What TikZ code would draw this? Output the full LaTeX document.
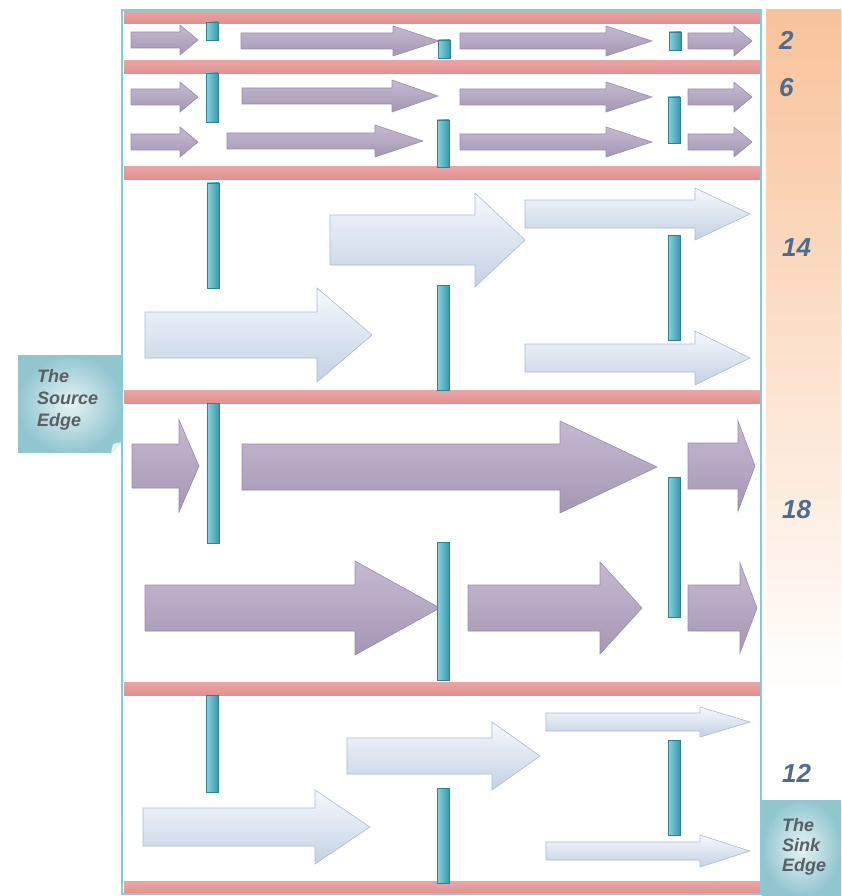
\documentclass[tikz,border=0pt]{standalone}
\usepackage{fontspec}
\setsansfont{Liberation Sans}

\definecolor{framecyan}{HTML}{86CCD6}
\definecolor{pinklight}{HTML}{F8D2D2}
\definecolor{pinkdark}{HTML}{E38E8E}
\definecolor{valvelight}{HTML}{86D3DE}
\definecolor{valvedark}{HTML}{3A98AC}
\definecolor{valveedge}{HTML}{347F8E}
\definecolor{plumtop}{HTML}{C5B9D1}
\definecolor{plumbot}{HTML}{A597B5}
\definecolor{plumedge}{HTML}{9A8CAA}
\definecolor{paletop}{HTML}{F6F9FD}
\definecolor{palebot}{HTML}{C3D1E5}
\definecolor{paleedge}{HTML}{AABBD2}
\definecolor{peach}{HTML}{F8C39A}
\definecolor{peachmid}{HTML}{FBDCC4}
\definecolor{notein}{HTML}{E6F3F5}
\definecolor{noteout}{HTML}{92C6CF}
\definecolor{numblue}{HTML}{4E6C8E}
\definecolor{notetext}{HTML}{5A5F63}

\tikzset{
  layerbar/.style={top color=pinkdark!80, middle color=pinklight, bottom color=pinkdark},
  valve/.style={left color=valvelight, right color=valvedark, draw=valveedge, line width=0.5pt},
  plumflow/.style={top color=plumtop, bottom color=plumbot, draw=plumedge, line width=0.6pt},
  paleflow/.style={top color=paletop, bottom color=palebot, draw=paleedge, line width=0.6pt},
  flowcount/.style={anchor=west, text=numblue, inner sep=0pt,
    font=\sffamily\bfseries\itshape\fontsize{26}{30}\selectfont},
  edgenote/.style={anchor=west, align=left, text=notetext, inner sep=0pt,
    font=\sffamily\bfseries\itshape\fontsize{18}{21}\selectfont}
}

% style, x tail, x tip, y centre, shaft half, head half, head length
\newcommand{\flowarrow}[7]{%
  \draw[#1] (#2,{#4-#5}) -- ({#3-#7},{#4-#5}) -- ({#3-#7},{#4-#6}) -- (#3,#4)
    -- ({#3-#7},{#4+#6}) -- ({#3-#7},{#4+#5}) -- (#2,{#4+#5}) -- cycle;}
\newcommand{\valvebar}[3]{\draw[valve] (#1,#2) rectangle ({#1+12},#3);}
\newcommand{\bandline}[1]{\path[layerbar] (124,{#1-6.5}) rectangle (760,{#1+6.5});}

\begin{document}
\begin{tikzpicture}[x=1pt,y=-1pt]
  \useasboundingbox (0,0) rectangle (841,896);

  % right column and the two edge notes
  \shade[top color=peach, middle color=peachmid, bottom color=white] (766,10) rectangle (841,700);
  \fill[white] (766,700) rectangle (841,800);
  \shade[inner color=notein, outer color=noteout] (762,800) rectangle (841,896);
  \shade[inner color=notein, outer color=noteout]
    (18,355) -- (122,355) -- (122,442) -- (111,453) -- (18,453) -- cycle;
  \fill[notein] (111,453) -- (113,444) -- (122,442) -- cycle;

  % layer separators
  \foreach \y in {17,67,173,397,689,888} {\bandline{\y}}

  % band 2
  \flowarrow{plumflow}{131}{198}{40}{8}{15}{18}
  \flowarrow{plumflow}{241}{439}{41}{8}{15}{46}
  \flowarrow{plumflow}{460}{652}{41}{8}{15}{46}
  \flowarrow{plumflow}{688}{752}{41}{8}{15}{18}
  \valvebar{206}{22}{40}
  \valvebar{438}{40}{58}
  \valvebar{669}{32}{50}

  % band 6
  \foreach \yc in {97,142} {
    \flowarrow{plumflow}{131}{198}{\yc}{8}{15}{18}
    \flowarrow{plumflow}{460}{652}{\yc}{8}{15}{46}
    \flowarrow{plumflow}{688}{752}{\yc}{8}{15}{18}
  }
  \flowarrow{plumflow}{242}{438}{96}{8}{16}{46}
  \flowarrow{plumflow}{227}{423}{141}{8}{16}{48}
  \valvebar{206}{73}{122}
  \valvebar{437}{120}{167}
  \valvebar{668}{97}{143}

  % band 14
  \flowarrow{paleflow}{330}{525}{240}{25}{47}{50}
  \flowarrow{paleflow}{525}{750}{214}{14}{26}{55}
  \flowarrow{paleflow}{145}{372}{335}{23}{47}{55}
  \flowarrow{paleflow}{525}{750}{358}{14}{27}{55}
  \valvebar{207}{183}{288}
  \valvebar{437}{285}{390}
  \valvebar{668}{235}{340}

  % band 18
  \flowarrow{plumflow}{132}{199}{466}{22}{46}{20}
  \flowarrow{plumflow}{242}{657}{467}{23}{46}{97}
  \flowarrow{plumflow}{688}{755}{466}{23}{45}{17}
  \flowarrow{plumflow}{145}{440}{608}{23}{47}{85}
  \flowarrow{plumflow}{468}{642}{608}{23}{46}{42}
  \flowarrow{plumflow}{688}{757}{608}{23}{45}{17}
  \valvebar{207}{403}{543}
  \valvebar{437}{542}{680}
  \valvebar{668}{477}{617}

  % band 12
  \flowarrow{paleflow}{347}{540}{756}{18}{34}{48}
  \flowarrow{paleflow}{546}{750}{722}{9}{15}{50}
  \flowarrow{paleflow}{143}{370}{827}{19}{37}{55}
  \flowarrow{paleflow}{546}{750}{851}{9}{16}{50}
  \valvebar{206}{695}{792}
  \valvebar{437}{788}{883}
  \valvebar{668}{740}{835}

  \draw[framecyan, line width=1.5pt] (122,10) rectangle (761,894);

  \node[flowcount] (n2) at (779,40) {2};
  \node[flowcount] (n6) at (779,88) {6};
  \node[flowcount] (n14) at (782,248) {14};
  \node[flowcount] (n18) at (782,510) {18};
  \node[flowcount] (n12) at (782,773) {12};
  \node[edgenote, font=\sffamily\bfseries\itshape\fontsize{18}{22}\selectfont] (src) at (37,400) {The\\Source\\Edge};
  \node[edgenote, font=\sffamily\bfseries\itshape\fontsize{18}{20}\selectfont] (snk) at (782,847) {The\\Sink\\Edge};
\end{tikzpicture}
\end{document}
